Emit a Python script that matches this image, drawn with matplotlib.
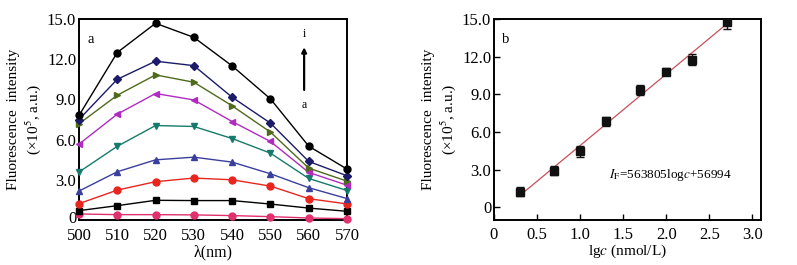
import matplotlib
matplotlib.use("Agg")
import matplotlib.pyplot as plt
import matplotlib.transforms as mtransforms
import numpy as np

plt.rcParams['font.family'] = ['Liberation Serif', 'DejaVu Serif']
plt.rcParams['mathtext.fontset'] = 'stix'

# ---- Panel a data ----
wavelength = [500, 510, 520, 530, 540, 550, 560, 570]
series_labels = ['a', 'b', 'c', 'd', 'e', 'f', 'g', 'h', 'i']
intensity = {
    'a': [0.45, 0.40, 0.40, 0.38, 0.33, 0.25, 0.15, 0.10],
    'b': [0.70, 1.07, 1.47, 1.45, 1.45, 1.19, 0.89, 0.65],
    'c': [1.22, 2.23, 2.86, 3.13, 3.00, 2.53, 1.59, 1.20],
    'd': [2.16, 3.60, 4.49, 4.69, 4.32, 3.45, 2.41, 1.60],
    'e': [3.58, 5.50, 7.05, 6.98, 6.08, 4.99, 3.10, 2.20],
    'f': [5.66, 7.90, 9.44, 8.96, 7.35, 5.86, 3.55, 2.60],
    'g': [7.18, 9.31, 10.83, 10.28, 8.52, 6.56, 3.87, 2.90],
    'h': [7.50, 10.50, 11.85, 11.52, 9.16, 7.23, 4.37, 3.30],
    'i': [7.80, 12.50, 14.68, 13.63, 11.50, 9.04, 5.51, 3.80],
}
colors = ['#e0306e', '#000000', '#e8261e', '#3a3f9e', '#157a6c',
          '#b02cc0', '#4f6a1c', '#1b1b6a', '#000000']
markers = ['o', 's', 'o', '^', 'v', '<', '>', 'D', 'o']

# ---- Panel b data ----
lgc = [0.3, 0.7, 1.0, 1.3, 1.7, 2.0, 2.3, 2.7]
fl = [1.24, 2.91, 4.47, 6.85, 9.37, 10.82, 11.75, 14.74]
fl_err = [0.35, 0.35, 0.45, 0.35, 0.40, 0.30, 0.45, 0.55]

fig = plt.figure(figsize=(7.97, 2.65), dpi=100)
ax1 = fig.add_axes([0.0991, 0.1698, 0.3363, 0.7585])
ax2 = fig.add_axes([0.6198, 0.1698, 0.3350, 0.7585])

for k, lab in enumerate(series_labels):
    ax1.plot(wavelength, intensity[lab], color=colors[k], marker=markers[k],
             markersize=5 if markers[k] != 'D' else 4.5, lw=1.0,
             markeredgecolor=colors[k], clip_on=False, zorder=3)

ax1.set_xlim(500, 570)
ax1.set_ylim(0, 15)
ax1.set_xticks(wavelength)
ax1.set_yticks([0, 3, 6, 9, 12, 15])
ax1.set_yticklabels(['0', '3.0', '6.0', '9.0', '12.0', '15.0'])
ax1.tick_params(direction='in', length=0, labelsize=12)
ax1.tick_params(axis='x', pad=6)
ax1.tick_params(axis='y', pad=2)
ax1.set_xlabel('λ(nm)', fontsize=11.5, labelpad=0)
ax1.set_ylabel('Fluorescence  intensity\n(×10$^5$, a.u.)', fontsize=11, labelpad=3)
ax1.text(0.03, 0.88, 'a', transform=ax1.transAxes, fontsize=10.5)
ax1.annotate('', xy=(558.8, 13.1), xytext=(558.8, 9.5),
             arrowprops=dict(arrowstyle='-|>', color='black', lw=1.6,
                             mutation_scale=7))
ax1.text(558.8, 13.9, 'i', ha='center', va='center', fontsize=8.5)
ax1.text(558.8, 8.6, 'a', ha='center', va='center', fontsize=8.5)

# nudge the bottom "0" label up a little so it does not touch "500"
fig.canvas.draw()
lbl0 = ax1.get_yticklabels()[0]
lbl0.set_transform(lbl0.get_transform() +
                   mtransforms.ScaledTranslation(0, 2 / 72, fig.dpi_scale_trans))

# Panel b
slope, intercept = np.polyfit(lgc, fl, 1)
xfit = np.array([lgc[0], lgc[-1]])
ax2.plot(xfit, slope * xfit + intercept, color='#c8505a', lw=0.9, zorder=2)
ax2.errorbar(lgc, fl, yerr=fl_err, fmt='s', color='#111111', markersize=6,
             ecolor='#111111', elinewidth=1.0, capsize=3, capthick=1.0, zorder=3)
ax2.set_xlim(0, 3.1)
ax2.set_ylim(-1.0, 15.0)
ax2.set_xticks([0, 0.5, 1.0, 1.5, 2.0, 2.5, 3.0])
ax2.set_xticklabels(['0', '0.5', '1.0', '1.5', '2.0', '2.5', '3.0'])
ax2.set_yticks([0, 3, 6, 9, 12, 15])
ax2.set_yticklabels(['0', '3.0', '6.0', '9.0', '12.0', '15.0'])
ax2.tick_params(direction='in', length=4, width=1.0, labelsize=12)
ax2.tick_params(axis='x', pad=5)
ax2.tick_params(axis='y', pad=2)
ax2.set_xlabel('lg$\\it{c}$ (nmol/L)', fontsize=11, labelpad=0)
ax2.set_ylabel('Fluorescence  intensity\n(×10$^5$, a.u.)', fontsize=11, labelpad=3)
ax2.text(0.03, 0.88, 'b', transform=ax2.transAxes, fontsize=10.5)
ax2.text(1.33, 2.6, '$\\it{I}_{\\rm F}$=563805log$\\it{c}$+56994', fontsize=9.5,
         va='center')

for ax in (ax1, ax2):
    for sp in ax.spines.values():
        sp.set_linewidth(1.4)

fig.savefig('out.png', dpi=100)
